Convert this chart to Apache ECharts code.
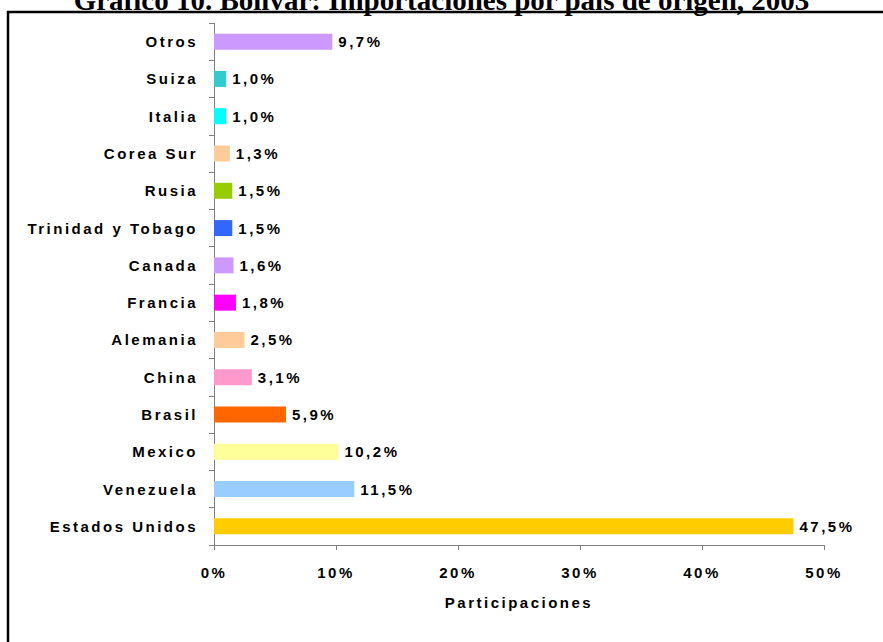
<!DOCTYPE html>
<html lang="es">
<head>
    <meta charset="UTF-8">
    <title>Bolívar: Importaciones por país de origen</title>
    <script src="https://cdn.jsdelivr.net/npm/echarts@6/dist/echarts.min.js"></script>
    <style>
        html, body { margin: 0; padding: 0; background: #fff; }
        #main { width: 883px; height: 642px; }
        /* texto espaciado como en el original, salvo el titulo */
        #main text { letter-spacing: 2.5px; }
        #main text[style*="Serif"] { letter-spacing: 0; }
    </style>
</head>
<body>
<div id="main"></div>
<script type="text/javascript">
    // datos (de abajo hacia arriba)
    var paises = ['Estados Unidos', 'Venezuela', 'Mexico', 'Brasil', 'China', 'Alemania', 'Francia',
        'Canada', 'Trinidad y Tobago', 'Rusia', 'Corea Sur', 'Italia', 'Suiza', 'Otros'];
    var participacion = [47.5, 11.5, 10.2, 5.9, 3.1, 2.5, 1.8, 1.6, 1.5, 1.5, 1.3, 1.0, 1.0, 9.7];
    var ticksX = [0, 10, 20, 30, 40, 50];

    var colores = ['#FFCC00', '#99CCFF', '#FFFF99', '#FF6600', '#FF99CC', '#FFCC99', '#FF00FF',
        '#CC99FF', '#3366FF', '#99CC00', '#FFCC99', '#00FFFF', '#33CCCC', '#CC99FF'];

    var myChart = echarts.init(document.getElementById('main'), null, { renderer: 'svg' });

    var option = {
        animation: false,
        title: {
            text: 'Gráfico 10. Bolívar: Importaciones por país de origen, 2003',
            left: 'center',
            top: -20,
            textStyle: {
                fontFamily: 'Liberation Serif',
                fontWeight: 'bold',
                fontSize: 29,
                color: '#000'
            }
        },
        graphic: [{
            type: 'rect',
            shape: { x: 8, y: 12, width: 900, height: 700 },
            style: { fill: 'none', stroke: '#000', lineWidth: 2.5 },
            silent: true
        }],
        grid: {
            left: 214,
            right: 59,
            top: 23,
            bottom: 97
        },
        xAxis: {
            type: 'value',
            min: ticksX[0],
            max: ticksX[ticksX.length - 1],
            interval: 10,
            name: 'Participaciones',
            nameLocation: 'middle',
            nameGap: 50,
            nameTextStyle: {
                fontFamily: 'Liberation Sans',
                fontWeight: 'bold',
                fontSize: 15,
                color: '#000'
            },
            axisLine: { show: true, lineStyle: { color: '#808080', width: 1 } },
            axisTick: { show: true, length: 5, lineStyle: { color: '#808080' } },
            splitLine: { show: false },
            axisLabel: {
                margin: 20,
                formatter: '{value}%',
                fontFamily: 'Liberation Sans',
                fontWeight: 'bold',
                fontSize: 15,
                color: '#000'
            }
        },
        yAxis: {
            type: 'category',
            data: paises,
            boundaryGap: true,
            axisLine: { show: true, lineStyle: { color: '#808080', width: 1 } },
            axisTick: { show: true, length: 5, lineStyle: { color: '#808080' } },
            axisLabel: {
                margin: 16,
                fontFamily: 'Liberation Sans',
                fontWeight: 'bold',
                fontSize: 15,
                color: '#000'
            }
        },
        series: [{
            type: 'bar',
            barWidth: 16,
            data: participacion.map(function (v, i) {
                return { value: v, itemStyle: { color: colores[i] } };
            }),
            label: {
                show: true,
                position: 'right',
                distance: 6,
                fontFamily: 'Liberation Sans',
                fontWeight: 'bold',
                fontSize: 15,
                color: '#000',
                formatter: function (p) {
                    return p.value.toFixed(1).replace('.', ',') + '%';
                }
            }
        }]
    };

    myChart.setOption(option);
    window.addEventListener('resize', function () {
        myChart.resize();
    });
</script>
</body>
</html>
